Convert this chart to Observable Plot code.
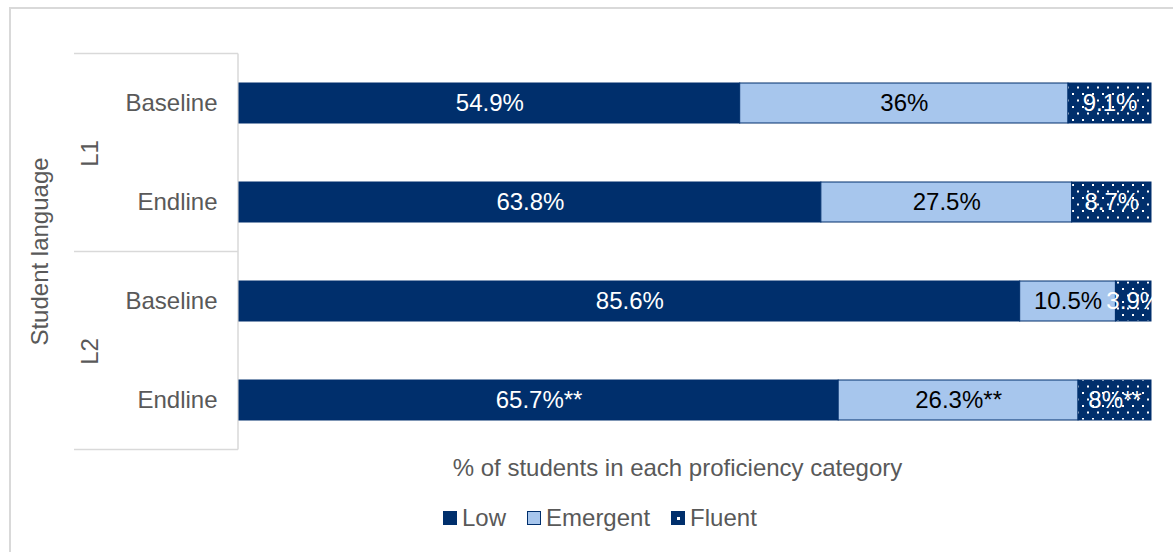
<!DOCTYPE html>
<html>
<head>
<meta charset="utf-8">
<script src="https://cdn.jsdelivr.net/npm/d3@7"></script>
<script src="https://cdn.jsdelivr.net/npm/@observablehq/plot@0.6"></script>
<style>
  html, body { margin: 0; padding: 0; background: #fff; }
  body { width: 1173px; height: 552px; overflow: hidden; position: relative; font-family: "Liberation Sans", Arial, sans-serif; }
  #frame { position: absolute; left: 9px; top: 7px; width: 1250px; height: 650px; border: 2px solid #d9d9d9; box-sizing: border-box; }
  #chart { position: absolute; left: 0; top: 0; }
  #legend { position: absolute; left: 443px; top: 505px; display: flex; align-items: center; font-size: 24px; color: #595959; line-height: 26px; }
  .item { display: flex; align-items: center; margin-right: 21px; }
  .item svg { margin-right: 5px; }
</style>
</head>
<body>
<div id="frame"></div>
<div id="chart"></div>
<div id="legend"></div>
<script>
// ---- data ----
const groups = ["L1", "L1", "L2", "L2"];
const waves = ["Baseline", "Endline", "Baseline", "Endline"];
const categories = ["Low", "Emergent", "Fluent"];
const low = [54.9, 63.8, 85.6, 65.7];
const emergent = [36, 27.5, 10.5, 26.3];
const fluent = [9.1, 8.7, 3.9, 8];
const lowLabels = ["54.9%", "63.8%", "85.6%", "65.7%**"];
const emergentLabels = ["36%", "27.5%", "10.5%", "26.3%**"];
const fluentLabels = ["9.1%", "8.7%", "3.9%", "8%**"];
const groupNames = ["L1", "L2"];
const yTitle = "Student language";
const xTitle = "% of students in each proficiency category";

// ---- styling ----
const navy = "#002F6C";
const light = "#A7C6ED";
const textGray = "#595959";
const lineGray = "#d9d9d9";
const fs = 24;

const rows = waves.map((w, i) => groups[i] + "|" + w);
const data = [];
rows.forEach((r, i) => {
  const vals = [low[i], emergent[i], fluent[i]];
  const labs = [lowLabels[i], emergentLabels[i], fluentLabels[i]];
  let acc = 0;
  categories.forEach((c, j) => {
    data.push({row: r, cat: c, value: vals[j], x1: acc, x2: acc + vals[j], label: labs[j]});
    acc += vals[j];
  });
});

// group separator lines + vertical axis line, using the plot scales
function separators(index, scales, values, dims) {
  const y = scales.y;
  const x0 = scales.x(0);
  const bw = y.bandwidth ? y.bandwidth() : 40;
  const step = y(rows[1]) - y(rows[0]);
  const gap = (step - bw) / 2;
  const g = d3.create("svg:g").attr("stroke", lineGray).attr("stroke-width", 1.5).attr("fill", "none");
  const ys = [];
  groupNames.forEach(gn => {
    const rs = rows.filter((r, i) => groups[i] === gn);
    ys.push(y(rs[0]) - gap);
    ys.push(y(rs[rs.length - 1]) + bw + gap);
  });
  const uniq = Array.from(new Set(ys.map(v => Math.round(v * 10) / 10)));
  uniq.forEach(v => {
    g.append("line").attr("x1", x0 - 165).attr("x2", x0 - 1).attr("y1", v).attr("y2", v);
  });
  g.append("line").attr("x1", x0 - 1).attr("x2", x0 - 1).attr("y1", d3.min(uniq)).attr("y2", d3.max(uniq));
  return g.node();
}

const plot = Plot.plot({
  width: 1173,
  height: 490,
  marginLeft: 239,
  marginRight: 22,
  marginTop: 53,
  marginBottom: 41,
  style: {fontFamily: "'Liberation Sans', Arial, sans-serif", fontSize: fs + "px", color: textGray, background: "transparent", overflow: "visible"},
  x: {domain: [0, 100], axis: null},
  y: {domain: rows, paddingInner: 0.596, paddingOuter: 0.298, axis: null},
  color: {domain: categories, range: [navy, light, "url(#fluentDots)"]},
  marks: [
    separators,
    Plot.barX(data, {x1: "x1", x2: "x2", y: "row", fill: "cat", stroke: navy, strokeWidth: 1}),
    Plot.text(data.filter(d => d.cat !== "Emergent"), {x: d => (d.x1 + d.x2) / 2, y: "row", text: "label", fill: "white", fontSize: fs}),
    Plot.text(data.filter(d => d.cat === "Emergent"), {x: d => (d.x1 + d.x2) / 2, y: "row", text: "label", fill: "black", fontSize: fs}),
    Plot.axisY({tickSize: 0, tickPadding: 22, tickFormat: r => r.split("|")[1], fontSize: fs, fill: textGray, label: null}),
    Plot.text(groupNames, {
      x: () => 0,
      y: g => rows[groups.indexOf(g)],
      dy: 50,
      dx: -149,
      text: g => g,
      rotate: -90,
      textAnchor: "middle",
      fill: textGray,
      fontSize: fs
    }),
    Plot.text([yTitle], {frameAnchor: "left", dx: -199, rotate: -90, textAnchor: "middle", lineAnchor: "middle", text: d => d, fill: textGray, fontSize: fs}),
    Plot.text([xTitle], {frameAnchor: "bottom", dx: -18, dy: 19, textAnchor: "middle", lineAnchor: "middle", text: d => d, fill: textGray, fontSize: fs})
  ]
});

// dotted pattern for "Fluent"
const defs = d3.select(plot).insert("defs", ":first-child");
const pat = defs.append("pattern").attr("id", "fluentDots").attr("patternUnits", "userSpaceOnUse")
  .attr("width", 10).attr("height", 13);
pat.append("rect").attr("width", 10).attr("height", 13).attr("fill", navy);
pat.append("rect").attr("x", 2).attr("y", 2).attr("width", 2).attr("height", 2).attr("fill", "white");
pat.append("rect").attr("x", 7).attr("y", 8.5).attr("width", 2).attr("height", 2).attr("fill", "white");

document.getElementById("chart").appendChild(plot);

// legend
const legend = d3.select("#legend");
categories.forEach(c => {
  const item = legend.append("div").attr("class", "item");
  const s = item.append("svg").attr("width", 14).attr("height", 14);
  s.append("rect").attr("x", 0.5).attr("y", 0.5).attr("width", 13).attr("height", 13)
    .attr("fill", c === "Emergent" ? light : navy).attr("stroke", navy).attr("stroke-width", 1);
  if (c === "Fluent") s.append("rect").attr("x", 6).attr("y", 6).attr("width", 3).attr("height", 3).attr("fill", "white");
  item.append("span").text(c);
});
</script>
</body>
</html>
